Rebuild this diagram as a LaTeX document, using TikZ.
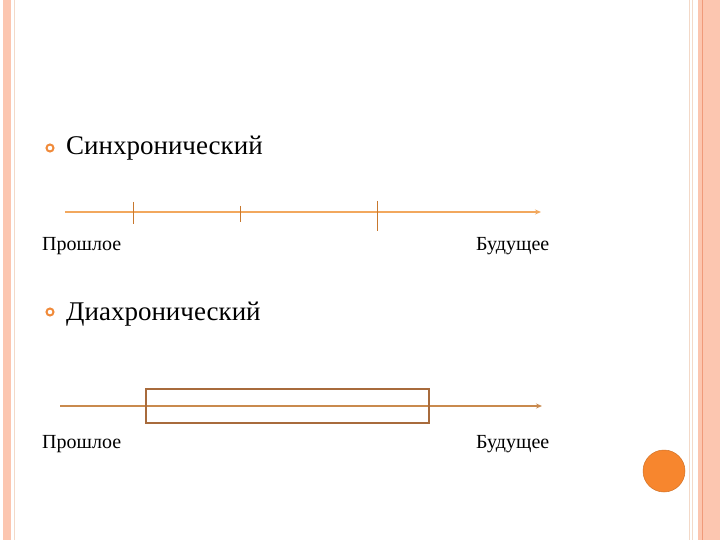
\documentclass[tikz,border=0pt]{standalone}
\usepackage{fontspec}
\setmainfont{Liberation Serif}
\usetikzlibrary{arrows.meta}
\definecolor{salmon}{HTML}{FCC6B0}
\definecolor{paleline}{HTML}{F3D9C8}
\definecolor{darkline}{HTML}{F09A7A}
\definecolor{axisA}{HTML}{F2A85E}
\definecolor{tickc}{HTML}{C8782E}
\definecolor{axisB}{HTML}{C98A4E}
\definecolor{boxc}{HTML}{A86B3C}
\definecolor{bulletc}{HTML}{F08A3A}
\definecolor{dotc}{HTML}{F7862E}
\tikzset{
  big/.style={font=\fontsize{27}{32}\selectfont, anchor=base west, inner sep=0pt},
  small/.style={font=\fontsize{20}{24}\selectfont, anchor=base west, inner sep=0pt},
  bul/.style={circle, draw=bulletc, line width=2pt, minimum size=7pt, inner sep=0pt},
  axisline/.style={line width=1.6pt, -{Stealth[length=6pt,width=5pt]}},
  tickline/.style={draw=tickc, line width=0.9pt},
}
\begin{document}
\begin{tikzpicture}[x=1pt,y=-1pt]
\useasboundingbox (0,0) rectangle (720,540);
\fill[white] (0,0) rectangle (720,540);
% left border
\fill[salmon] (3,0) rectangle (11,540);
\draw[paleline, line width=0.8pt] (14,0) -- (14,540);
% right border
\draw[paleline, line width=1pt] (689,0) -- (689,540);
\draw[paleline, line width=1pt] (692,0) -- (692,540);
\fill[salmon] (698,0) rectangle (720,540);
\draw[darkline, line width=0.9pt] (702,0) -- (702,540);
% section 1
\node[bul] (b1) at (50,148) {};
\node[big] (t1) at (66,155) {Синхронический};
\coordinate (a1s) at (65,212);
\coordinate (a1e) at (541,212);
\draw[axisline, draw=axisA] (a1s) -- (a1e);
\coordinate (k1t) at (133,202); \coordinate (k1b) at (133,224);
\coordinate (k2t) at (240,206); \coordinate (k2b) at (240,222);
\coordinate (k3t) at (377,201); \coordinate (k3b) at (377,231);
\draw[tickline] (k1t) -- (k1b);
\draw[tickline] (k2t) -- (k2b);
\draw[tickline] (k3t) -- (k3b);
\node[small] (p1) at (42,251) {Прошлое};
\node[small] (f1) at (476,251) {Будущее};
% section 2
\node[bul] (b2) at (50,312) {};
\node[big] (t2) at (66,320) {Диахронический};
\coordinate (a2s) at (60,406);
\coordinate (a2e) at (542,406);
\draw[axisline, draw=axisB] (a2s) -- (a2e);
\node[draw=boxc, line width=1.8pt, minimum width=283pt, minimum height=34pt, inner sep=0pt, anchor=north west] (box) at (145,388) {};
\node[small] (p2) at (42,448) {Прошлое};
\node[small] (f2) at (476,448) {Будущее};
% orange dot
\node[circle, fill=dotc, draw=dotc!85!black, line width=0.5pt, minimum size=42pt, inner sep=0pt] (dot) at (664,471) {};
\end{tikzpicture}
\end{document}
